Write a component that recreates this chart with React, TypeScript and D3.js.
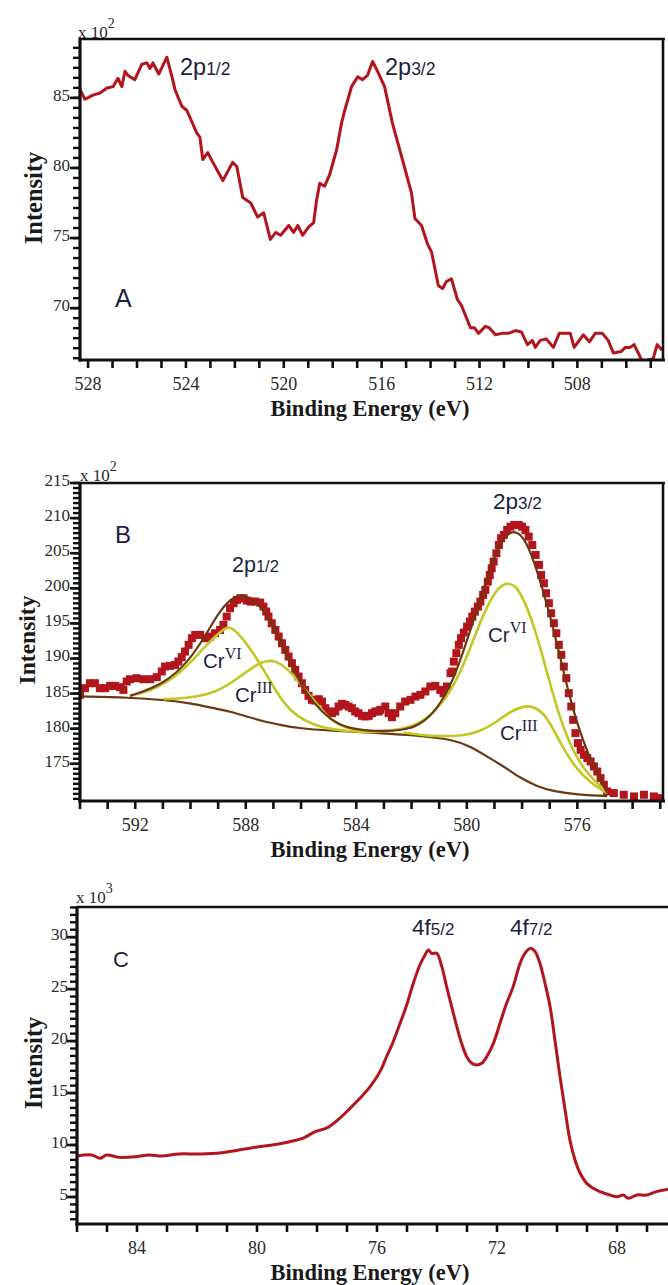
import React from 'react';
import * as d3 from 'd3';

// ---------------- Panel A (Cr 2p survey, raw) ----------------
const aEnergy = [528.33, 528.13, 527.80, 527.51, 527.23, 526.98, 526.78, 526.62, 526.49, 526.37, 526.09, 525.80, 525.60, 525.47, 525.35, 525.11, 524.78, 524.57, 524.45, 524.17, 523.96, 523.56, 523.43, 523.31, 523.11, 522.90, 522.49, 522.09, 521.92, 521.68, 521.35, 521.07, 520.82, 520.55, 520.33, 520.13, 519.80, 519.60, 519.43, 519.23, 518.98, 518.78, 518.66, 518.53, 518.33, 518.13, 517.84, 517.64, 517.51, 517.23, 516.98, 516.78, 516.58, 516.37, 516.17, 515.88, 515.56, 515.15, 514.78, 514.64, 514.37, 514.13, 513.96, 513.68, 513.51, 513.35, 513.15, 512.90, 512.74, 512.37, 512.21, 512.04, 511.76, 511.60, 511.35, 511.07, 510.82, 510.53, 510.29, 510.04, 509.84, 509.72, 509.52, 509.27, 508.98, 508.74, 508.29, 508.13, 507.76, 507.51, 507.27, 506.98, 506.74, 506.53, 506.21, 506.04, 505.84, 505.68, 505.51, 505.35, 504.90, 504.74, 504.54];
const aIntensity = [85.6, 84.9, 85.2, 85.35, 85.7, 85.8, 86.4, 85.8, 86.9, 86.6, 86.3, 87.4, 87.5, 87.1, 87.5, 86.7, 87.9, 86.5, 85.6, 84.4, 84.1, 82.5, 82.2, 80.6, 81.1, 80.4, 79.1, 80.4, 80.1, 77.9, 77.5, 76.5, 76.8, 74.9, 75.4, 75.2, 75.9, 75.4, 75.9, 75.2, 75.8, 76.1, 77.7, 78.9, 78.7, 79.5, 81.3, 83.2, 84.1, 85.8, 86.5, 86.3, 86.6, 87.6, 86.9, 85.8, 83.2, 80.6, 78.2, 76.4, 75.9, 74.6, 74.0, 71.6, 71.4, 71.9, 72.1, 70.6, 70.2, 68.6, 68.6, 68.2, 68.7, 68.6, 68.1, 68.2, 68.2, 68.4, 68.3, 67.4, 67.7, 67.2, 67.7, 67.8, 67.2, 68.2, 68.2, 67.2, 68.1, 67.6, 68.2, 68.2, 67.7, 66.8, 66.9, 67.2, 67.2, 67.4, 66.8, 66.2, 66.4, 67.4, 67.0];
const aXTicks = [528, 524, 520, 516, 512, 508];
const aYTicks = [70, 75, 80, 85];

// ---------------- Panel B (Cr 2p deconvolution) ----------------
const bEnergy = [594.00, 593.82, 593.64, 593.46, 593.28, 593.09, 592.91, 592.73, 592.55, 592.43, 592.31, 592.19, 591.95, 591.71, 591.46, 591.22, 591.04, 590.92, 590.74, 590.56, 590.44, 590.32, 590.20, 590.07, 589.95, 589.83, 589.65, 589.47, 589.29, 589.11, 588.93, 588.81, 588.69, 588.57, 588.44, 588.32, 588.20, 588.08, 587.96, 587.82, 587.66, 587.48, 587.36, 587.26, 587.18, 587.06, 586.93, 586.81, 586.69, 586.57, 586.45, 586.33, 586.21, 586.09, 585.97, 585.85, 585.73, 585.61, 585.49, 585.36, 585.24, 585.12, 585.00, 584.88, 584.76, 584.64, 584.52, 584.40, 584.28, 584.16, 584.04, 583.92, 583.79, 583.67, 583.55, 583.43, 583.31, 583.19, 583.13, 582.95, 582.83, 582.71, 582.59, 582.41, 582.23, 582.04, 581.86, 581.68, 581.50, 581.32, 581.14, 580.96, 580.84, 580.72, 580.59, 580.53, 580.47, 580.38, 580.29, 580.21, 580.11, 579.99, 579.89, 579.80, 579.71, 579.60, 579.51, 579.41, 579.33, 579.24, 579.17, 579.10, 579.03, 578.93, 578.84, 578.76, 578.66, 578.54, 578.42, 578.28, 578.12, 578.00, 577.88, 577.76, 577.63, 577.51, 577.39, 577.31, 577.21, 577.13, 577.03, 576.95, 576.85, 576.76, 576.67, 576.58, 576.49, 576.40, 576.31, 576.22, 576.15, 576.07, 575.98, 575.88, 575.76, 575.64, 575.52, 575.40, 575.28, 575.16, 575.04, 574.92, 574.68, 574.32, 573.95, 573.59, 573.23, 572.99];
const bIntensity = [184.82, 185.77, 186.48, 186.48, 185.77, 185.77, 186.10, 186.10, 185.91, 185.53, 186.72, 187.05, 187.19, 187.05, 187.05, 187.34, 188.15, 188.86, 188.95, 189.09, 189.57, 190.19, 190.99, 191.94, 192.89, 193.36, 193.36, 192.89, 193.13, 193.60, 194.07, 194.79, 195.97, 197.16, 197.87, 198.35, 198.58, 198.58, 198.25, 198.11, 198.11, 197.97, 197.40, 196.69, 195.97, 195.02, 194.07, 193.13, 192.18, 191.23, 190.28, 189.33, 188.38, 187.43, 186.48, 185.53, 184.68, 184.11, 184.01, 184.20, 183.87, 182.92, 182.45, 182.21, 182.45, 183.16, 183.54, 183.40, 183.16, 182.92, 182.45, 182.21, 181.83, 181.74, 181.83, 182.21, 182.45, 182.45, 182.69, 183.16, 182.21, 181.64, 182.21, 183.16, 183.87, 184.11, 184.58, 184.82, 185.30, 186.01, 186.10, 185.53, 185.06, 186.01, 187.91, 188.14, 189.56, 190.76, 191.94, 192.89, 193.69, 194.54, 195.26, 195.97, 196.68, 197.39, 198.10, 199.06, 199.77, 200.95, 201.90, 202.86, 203.80, 204.99, 206.17, 207.13, 207.60, 208.31, 208.78, 209.02, 209.02, 208.78, 208.31, 207.36, 206.17, 204.75, 203.33, 201.90, 200.72, 199.30, 197.88, 196.45, 195.03, 193.60, 191.94, 190.52, 188.85, 187.20, 185.06, 183.16, 181.26, 179.37, 177.95, 176.99, 176.28, 175.81, 175.33, 174.62, 173.90, 172.96, 172.01, 171.06, 170.83, 170.59, 170.35, 170.59, 170.35, 170.12];

const bBackgroundE = [594.00, 592.19, 590.98, 590.01, 589.17, 588.57, 587.96, 587.36, 586.75, 586.15, 584.94, 583.13, 581.68, 580.47, 579.87, 579.27, 578.66, 578.06, 577.45, 576.85, 576.00, 575.04, 574.92];
const bBackgroundI = [184.59, 184.44, 184.11, 183.64, 182.92, 182.45, 181.74, 181.03, 180.55, 180.08, 179.70, 179.37, 178.99, 178.42, 177.47, 176.04, 174.62, 172.96, 171.77, 171.06, 170.59, 170.44, 170.40];

const bEnvelopeE = [592.19, 590.98, 590.01, 589.41, 588.93, 588.44, 588.08, 587.60, 587.12, 586.75, 586.39, 586.03, 585.55, 584.94, 584.34, 583.37, 582.29, 581.68, 581.08, 580.47, 579.99, 579.51, 579.02, 578.66, 578.30, 577.94, 577.58, 577.21, 576.85, 576.49, 576.13, 575.64, 575.16, 574.92];
const bEnvelopeI = [184.68, 186.25, 189.80, 193.60, 196.92, 198.82, 199.06, 198.11, 195.50, 192.65, 189.33, 186.48, 183.64, 181.26, 180.08, 179.60, 179.74, 180.55, 182.69, 186.96, 192.65, 198.35, 204.52, 207.36, 208.31, 207.36, 204.04, 199.30, 194.08, 187.91, 182.21, 176.52, 172.72, 170.83];

const bCr6HalfE = [592.19, 591.34, 590.62, 590.01, 589.53, 589.05, 588.69, 588.44, 588.08, 587.72, 587.36, 587.00, 586.63, 586.15, 585.55, 584.94, 584.10, 583.49];
const bCr6HalfI = [184.68, 185.53, 187.19, 189.33, 191.47, 193.36, 194.55, 194.31, 192.65, 190.75, 188.38, 186.01, 183.64, 181.74, 180.55, 179.93, 179.60, 179.50];
const bCr3HalfE = [590.98, 590.14, 589.41, 588.81, 588.20, 587.72, 587.24, 586.87, 586.51, 586.03, 585.55, 585.06, 584.58, 583.98, 583.37];
const bCr3HalfI = [184.21, 184.35, 184.82, 185.77, 187.43, 188.86, 189.80, 189.57, 188.62, 186.48, 184.11, 181.74, 180.31, 179.84, 179.60];
const bCr6ThreeE = [583.49, 582.29, 581.68, 581.08, 580.47, 579.99, 579.63, 579.27, 578.90, 578.54, 578.18, 577.82, 577.45, 577.09, 576.73, 576.25, 575.76, 575.16, 574.92];
const bCr6ThreeI = [179.50, 179.93, 180.79, 182.69, 186.01, 190.28, 194.08, 197.40, 200.00, 200.90, 200.24, 197.40, 193.13, 187.91, 182.69, 177.47, 174.15, 171.77, 170.83];
const bCr3ThreeE = [582.29, 581.68, 581.08, 580.11, 579.51, 578.90, 578.42, 577.94, 577.58, 577.21, 576.85, 576.49, 576.00, 575.52, 574.92];
const bCr3ThreeI = [179.45, 179.13, 178.89, 178.99, 179.60, 181.03, 182.45, 183.26, 183.16, 182.21, 179.84, 176.99, 174.15, 172.25, 170.83];
const bXTicks = [592, 588, 584, 580, 576];
const bYTicks = [175, 180, 185, 190, 195, 200, 205, 210, 215];

// ---------------- Panel C (4f) ----------------
const cEnergy = [86.01, 85.51, 85.23, 85.02, 84.59, 84.02, 83.60, 83.17, 82.60, 81.89, 81.18, 80.61, 80.05, 79.48, 78.91, 78.48, 78.06, 77.63, 77.23, 76.90, 76.57, 76.23, 75.90, 75.68, 75.46, 75.23, 75.01, 74.79, 74.57, 74.40, 74.29, 74.18, 74.01, 73.84, 73.68, 73.51, 73.34, 73.18, 73.01, 72.84, 72.68, 72.51, 72.34, 72.12, 71.90, 71.68, 71.46, 71.23, 71.07, 70.88, 70.73, 70.57, 70.40, 70.23, 70.07, 69.90, 69.73, 69.57, 69.40, 69.23, 69.01, 68.79, 68.57, 68.34, 68.01, 67.79, 67.62, 67.34, 67.01, 66.68, 66.30];
const cIntensity = [8.94, 9.04, 8.72, 9.04, 8.81, 8.88, 9.04, 8.94, 9.14, 9.14, 9.26, 9.52, 9.78, 10.00, 10.32, 10.64, 11.28, 11.70, 12.60, 13.53, 14.49, 15.61, 17.06, 18.50, 19.94, 21.71, 23.47, 25.56, 27.32, 28.28, 28.76, 28.44, 28.44, 27.16, 25.24, 23.31, 21.39, 19.78, 18.50, 17.86, 17.70, 17.86, 18.50, 19.78, 21.71, 23.63, 25.24, 27.48, 28.44, 28.92, 28.60, 27.48, 25.56, 23.31, 20.11, 16.58, 13.37, 10.48, 8.56, 7.28, 6.31, 5.83, 5.51, 5.29, 5.03, 5.19, 4.87, 5.19, 5.19, 5.51, 5.74];
const cXTicks = [84, 80, 76, 72, 68];
const cYTicks = [5, 10, 15, 20, 25, 30];

const RED = '#b3151c';
const BROWN = '#6b3812';
const YG = '#c3c722';
const NAVY = '#1e1e44';
const SERIF = '"Liberation Serif", "Times New Roman", serif';
const SANS = '"Liberation Sans", Arial, sans-serif';

type Scale = d3.ScaleLinear<number, number>;

function zip(xs: number[], ys: number[]): [number, number][] {
  return xs.map((v, i) => [v, ys[i]]);
}

function Frame(props: {
  x: Scale; y: Scale; xTicks: number[]; yTicks: number[];
  rightBorder: boolean; labelEnd: number; exp: string; expX: number; expY: number;
}) {
  const { x, y, xTicks, yTicks, rightBorder, labelEnd, exp, expX, expY } = props;
  const [x0, x1] = x.range();
  const [yb, yt] = y.range();
  const [xd0, xd1] = x.domain();
  const [yd0, yd1] = y.domain();
  const xMinor = d3.range(Math.ceil(Math.min(xd0, xd1)), Math.max(xd0, xd1) + 1e-6, 1);
  const step = 5 / 7;
  const base = yTicks[0];
  const yMinor = d3.range(-80, 80).map(i => base + i * step).filter(v => v >= yd0 - 1e-6 && v <= yd1 + 1e-6);
  return (
    <g>
      {xMinor.map((t, i) => (
        <line key={'xm' + i} x1={x(t)} x2={x(t)} y1={yb} y2={yb + 8} stroke="#111" strokeWidth={2.6} />
      ))}
      {yMinor.map((t, i) => (
        <line key={'ym' + i} x1={x0} x2={x0 - 7} y1={y(t)} y2={y(t)} stroke="#111" strokeWidth={2.4} />
      ))}
      {yTicks.map((t, i) => (
        <line key={'yM' + i} x1={x0} x2={x0 - 10} y1={y(t)} y2={y(t)} stroke="#111" strokeWidth={2.6} />
      ))}
      <line x1={x0} x2={x1 + 2} y1={yt} y2={yt} stroke="#111" strokeWidth={2.6} />
      {rightBorder && <line x1={x1} x2={x1} y1={yt} y2={yb} stroke="#111" strokeWidth={2.6} />}
      <line x1={x0} x2={x0} y1={yt - 1} y2={yb + 1.5} stroke="#111" strokeWidth={3.2} />
      <line x1={x0 - 1.5} x2={x1 + 2} y1={yb} y2={yb} stroke="#111" strokeWidth={3.2} />
      {xTicks.map((t, i) => (
        <text key={'xl' + i} x={x(t)} y={yb + 30} textAnchor="middle" fontFamily={SERIF} fontSize={18} fill="#2a2a2a">{t}</text>
      ))}
      {yTicks.map((t, i) => (
        <text key={'yl' + i} x={labelEnd} y={y(t) + 3} textAnchor="end" fontFamily={SERIF} fontSize={17} fill="#2a2a2a">{t}</text>
      ))}
      <text x={expX} y={expY} fontFamily={SERIF} fontSize={17} fill="#2a2a2a">
        x 10<tspan fontSize={14} dy={-10}>{exp}</tspan>
      </text>
    </g>
  );
}

function Peak(props: { x: number; y: number; main: string; sub: string; size: number; subSize: number }) {
  return (
    <text x={props.x} y={props.y} fontFamily={SANS} fontSize={props.size} fill={NAVY}>
      {props.main}<tspan fontSize={props.subSize}>{props.sub}</tspan>
    </text>
  );
}

function CrLabel(props: { x: number; y: number; ox: string }) {
  return (
    <text x={props.x} y={props.y} fontFamily={SANS} fontSize={20.5} fill={NAVY}>
      Cr<tspan fontFamily={SERIF} fontSize={16} dy={-9}>{props.ox}</tspan>
    </text>
  );
}

function AxisTitles(props: { cx: number; cy: number; size: number; bx: number; by: number }) {
  return (
    <g>
      <text transform={`translate(${props.cx},${props.cy}) rotate(-90)`} textAnchor="middle" fontFamily={SERIF} fontWeight="bold" fontSize={props.size} fill="#1a1a1a">Intensity</text>
      <text x={props.bx} y={props.by} textAnchor="middle" fontFamily={SERIF} fontWeight="bold" fontSize={22.5} fill="#1a1a1a">Binding Energy (eV)</text>
    </g>
  );
}

export default function App() {
  const ax = d3.scaleLinear().domain([528.33, 504.5]).range([80, 663]);
  const ay = d3.scaleLinear().domain([66.3, 89.2]).range([360, 39]);
  const bx = d3.scaleLinear().domain([594, 572.9]).range([80, 663]);
  const by = d3.scaleLinear().domain([169.7, 215]).range([801, 483]);
  const cx = d3.scaleLinear().domain([86, 66.3]).range([77, 668]);
  const cy = d3.scaleLinear().domain([2.4, 32.9]).range([1224, 907]);

  const aLine = d3.line<[number, number]>().x(d => ax(d[0])).y(d => ay(d[1])).curve(d3.curveLinear);
  const bLine = d3.line<[number, number]>().x(d => bx(d[0])).y(d => by(d[1])).curve(d3.curveBasis);
  const cLine = d3.line<[number, number]>().x(d => cx(d[0])).y(d => cy(d[1])).curve(d3.curveCatmullRom);

  const bPts = zip(bEnergy, bIntensity);
  const sq = 8;

  return (
    <svg width={668} height={1285} style={{ position: 'absolute', left: 0, top: 0, background: '#fff' }}>
      <defs>
        <clipPath id="clipA"><rect x={80} y={39} width={583} height={321} /></clipPath>
        <clipPath id="clipB"><rect x={80} y={483} width={583} height={318} /></clipPath>
        <clipPath id="clipC"><rect x={77} y={907} width={591} height={317} /></clipPath>
      </defs>

      {/* ---------- Panel A ---------- */}
      <g clipPath="url(#clipA)">
        <path d={aLine(zip(aEnergy, aIntensity)) || ''} fill="none" stroke={RED} strokeWidth={3} strokeLinejoin="round" />
      </g>
      <Frame x={ax} y={ay} xTicks={aXTicks} yTicks={aYTicks} rightBorder={true} labelEnd={70} exp="2" expX={78} expY={38} />
      <Peak x={180} y={75} main="2p" sub="1/2" size={23.5} subSize={17.5} />
      <Peak x={385} y={75} main="2p" sub="3/2" size={23.5} subSize={17.5} />
      <text x={115} y={307} fontFamily={SANS} fontSize={25} fill={NAVY}>A</text>
      <AxisTitles cx={42} cy={198} size={24.5} bx={370} by={416} />

      {/* ---------- Panel B ---------- */}
      <g clipPath="url(#clipB)">
        {bPts.map((d, i) => (
          <rect key={'sq' + i} x={bx(d[0]) - sq / 2} y={by(d[1]) - sq / 2} width={sq} height={sq} fill={RED} />
        ))}
        <path d={bLine(zip(bBackgroundE, bBackgroundI)) || ''} fill="none" stroke={BROWN} strokeWidth={2.2} />
        <path d={bLine(zip(bCr6HalfE, bCr6HalfI)) || ''} fill="none" stroke={YG} strokeWidth={2.6} />
        <path d={bLine(zip(bCr3HalfE, bCr3HalfI)) || ''} fill="none" stroke={YG} strokeWidth={2.6} />
        <path d={bLine(zip(bCr6ThreeE, bCr6ThreeI)) || ''} fill="none" stroke={YG} strokeWidth={2.6} />
        <path d={bLine(zip(bCr3ThreeE, bCr3ThreeI)) || ''} fill="none" stroke={YG} strokeWidth={2.6} />
        <path d={bLine(zip(bEnvelopeE, bEnvelopeI)) || ''} fill="none" stroke={BROWN} strokeWidth={2.2} />
      </g>
      <Frame x={bx} y={by} xTicks={bXTicks} yTicks={bYTicks} rightBorder={true} labelEnd={70} exp="2" expX={80} expY={481} />
      <text x={115} y={543} fontFamily={SANS} fontSize={24} fill={NAVY}>B</text>
      <Peak x={232} y={572} main="2p" sub="1/2" size={21.5} subSize={16.5} />
      <Peak x={493} y={509} main="2p" sub="3/2" size={22.5} subSize={17} />
      <CrLabel x={203} y={668} ox="VI" />
      <CrLabel x={235} y={702} ox="III" />
      <CrLabel x={488} y={642} ox="VI" />
      <CrLabel x={500} y={740} ox="III" />
      <AxisTitles cx={35} cy={640} size={23.5} bx={370} by={857} />

      {/* ---------- Panel C ---------- */}
      <g clipPath="url(#clipC)">
        <path d={cLine(zip(cEnergy, cIntensity)) || ''} fill="none" stroke={RED} strokeWidth={3} strokeLinejoin="round" />
      </g>
      <Frame x={cx} y={cy} xTicks={cXTicks} yTicks={cYTicks} rightBorder={false} labelEnd={68} exp="3" expX={76} expY={903} />
      <text x={113} y={967} fontFamily={SANS} fontSize={22} fill={NAVY}>C</text>
      <Peak x={412} y={935} main="4f" sub="5/2" size={22.5} subSize={17} />
      <Peak x={510} y={935} main="4f" sub="7/2" size={22.5} subSize={17} />
      <AxisTitles cx={42} cy={1063} size={24.5} bx={370} by={1280} />
    </svg>
  );
}
